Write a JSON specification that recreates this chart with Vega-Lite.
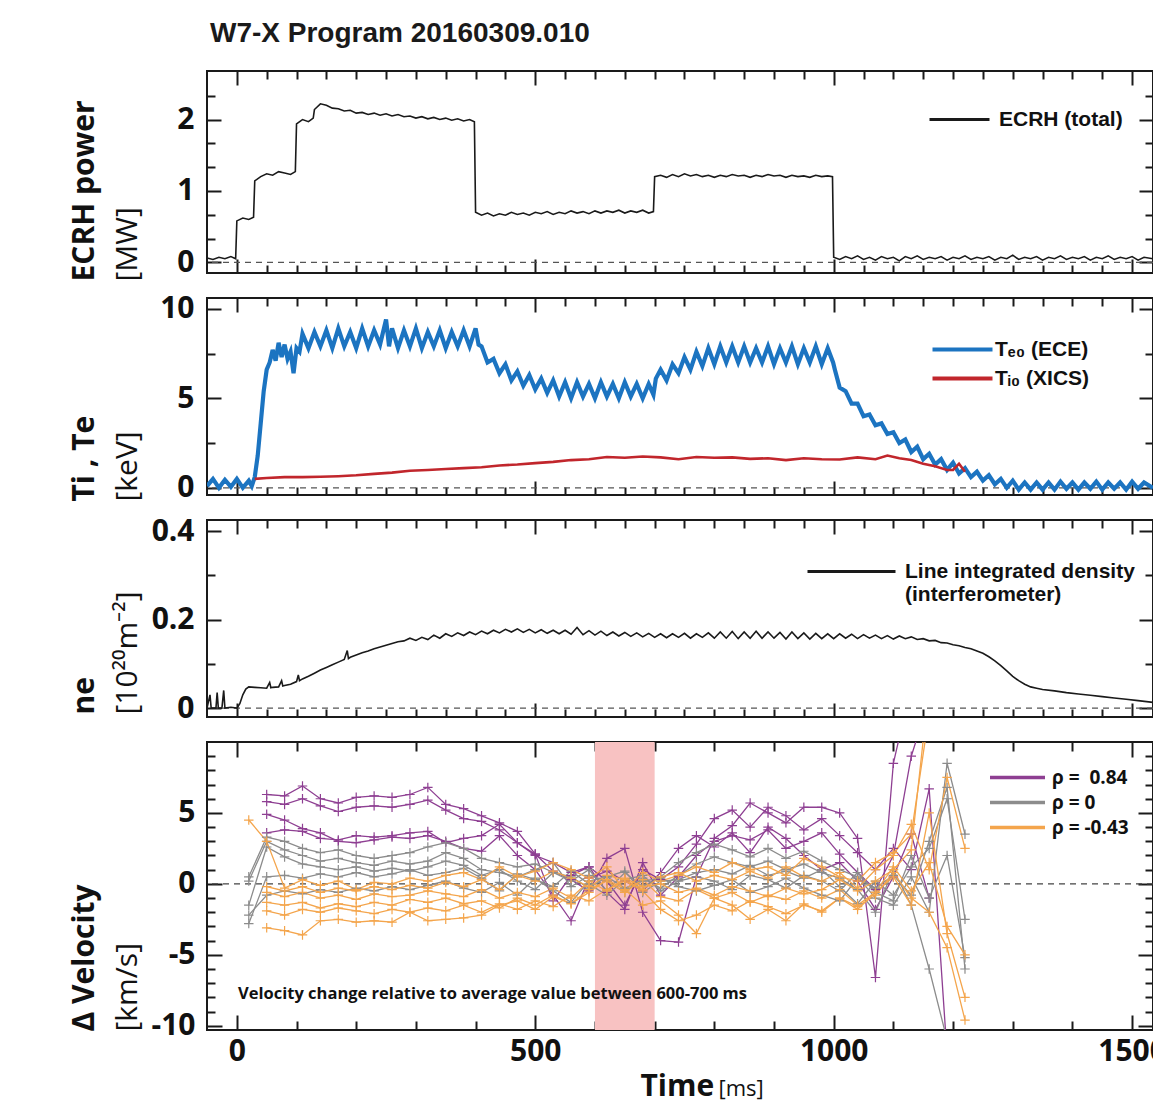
{
"$schema":"https://vega.github.io/schema/vega-lite/v6.json",
"padding":{"left":68,"top":20,"right":0,"bottom":0},
"background":"white",
"title":{"text":"W7-X Program 20160309.010","anchor":"start","font":"Liberation Sans","fontSize":28,"fontWeight":"bold","color":"#1a1a1a","offset":21,"dx":3,"frame":"group"},
"config":{"view":{"stroke":"#1a1a1a","strokeWidth":2},"axis":{"grid":false,"domain":false,"tickColor":"#1a1a1a","tickWidth":2,"labelColor":"#111","titleColor":"#111"},"legend":{"padding":0,"labelLimit":400}},
"spacing":25,
"bounds":"flush",
"resolve":{"scale":{"color":"independent"},"legend":{"color":"independent"}},
"datasets":{
"ecrh":[{"t":-50,"v":0.06},{"t":-40,"v":0.04},{"t":-30,"v":0.07},{"t":-20,"v":0.05},{"t":-10,"v":0.08},{"t":-2,"v":0.05},{"t":0,"v":0.58},{"t":10,"v":0.62},{"t":20,"v":0.6},{"t":28,"v":0.63},{"t":30,"v":1.14},{"t":40,"v":1.2},{"t":50,"v":1.24},{"t":60,"v":1.22},{"t":70,"v":1.27},{"t":80,"v":1.25},{"t":90,"v":1.23},{"t":98,"v":1.27},{"t":100,"v":1.94},{"t":110,"v":2.0},{"t":120,"v":1.97},{"t":128,"v":2.02},{"t":130,"v":2.14},{"t":140,"v":2.22},{"t":150,"v":2.2},{"t":160,"v":2.16},{"t":170,"v":2.15},{"t":180,"v":2.12},{"t":190,"v":2.13},{"t":200,"v":2.09},{"t":210,"v":2.1},{"t":220,"v":2.07},{"t":230,"v":2.09},{"t":240,"v":2.06},{"t":250,"v":2.08},{"t":260,"v":2.05},{"t":270,"v":2.07},{"t":280,"v":2.04},{"t":290,"v":2.05},{"t":300,"v":2.02},{"t":310,"v":2.04},{"t":320,"v":2.01},{"t":330,"v":2.03},{"t":340,"v":2.0},{"t":350,"v":2.02},{"t":360,"v":1.99},{"t":370,"v":2.01},{"t":380,"v":1.98},{"t":390,"v":2.0},{"t":398,"v":1.97},{"t":400,"v":0.7},{"t":410,"v":0.66},{"t":420,"v":0.69},{"t":430,"v":0.65},{"t":440,"v":0.68},{"t":450,"v":0.66},{"t":460,"v":0.7},{"t":470,"v":0.67},{"t":480,"v":0.69},{"t":490,"v":0.66},{"t":500,"v":0.7},{"t":510,"v":0.68},{"t":520,"v":0.71},{"t":530,"v":0.67},{"t":540,"v":0.7},{"t":550,"v":0.68},{"t":560,"v":0.72},{"t":570,"v":0.69},{"t":580,"v":0.71},{"t":590,"v":0.68},{"t":600,"v":0.72},{"t":610,"v":0.69},{"t":620,"v":0.72},{"t":630,"v":0.7},{"t":640,"v":0.73},{"t":650,"v":0.69},{"t":660,"v":0.72},{"t":670,"v":0.7},{"t":680,"v":0.73},{"t":690,"v":0.69},{"t":698,"v":0.71},{"t":700,"v":1.2},{"t":710,"v":1.22},{"t":720,"v":1.19},{"t":730,"v":1.23},{"t":740,"v":1.2},{"t":750,"v":1.24},{"t":760,"v":1.21},{"t":770,"v":1.23},{"t":780,"v":1.2},{"t":790,"v":1.22},{"t":800,"v":1.19},{"t":810,"v":1.22},{"t":820,"v":1.2},{"t":830,"v":1.23},{"t":840,"v":1.21},{"t":850,"v":1.22},{"t":860,"v":1.19},{"t":870,"v":1.22},{"t":880,"v":1.2},{"t":890,"v":1.23},{"t":900,"v":1.21},{"t":910,"v":1.22},{"t":920,"v":1.19},{"t":930,"v":1.22},{"t":940,"v":1.2},{"t":950,"v":1.21},{"t":960,"v":1.19},{"t":970,"v":1.22},{"t":980,"v":1.2},{"t":990,"v":1.21},{"t":998,"v":1.2},{"t":1000,"v":0.07},{"t":1010,"v":0.04},{"t":1020,"v":0.08},{"t":1030,"v":0.05},{"t":1040,"v":0.09},{"t":1050,"v":0.04},{"t":1060,"v":0.07},{"t":1070,"v":0.03},{"t":1080,"v":0.08},{"t":1090,"v":0.05},{"t":1100,"v":0.07},{"t":1110,"v":0.02},{"t":1120,"v":0.08},{"t":1130,"v":0.05},{"t":1140,"v":0.09},{"t":1150,"v":0.04},{"t":1160,"v":0.07},{"t":1170,"v":0.05},{"t":1180,"v":0.08},{"t":1190,"v":0.03},{"t":1200,"v":0.07},{"t":1210,"v":0.05},{"t":1220,"v":0.09},{"t":1230,"v":0.04},{"t":1240,"v":0.07},{"t":1250,"v":0.05},{"t":1260,"v":0.08},{"t":1270,"v":0.03},{"t":1280,"v":0.07},{"t":1290,"v":0.05},{"t":1300,"v":0.1},{"t":1310,"v":0.04},{"t":1320,"v":0.07},{"t":1330,"v":0.05},{"t":1340,"v":0.08},{"t":1350,"v":0.03},{"t":1360,"v":0.07},{"t":1370,"v":0.05},{"t":1380,"v":0.09},{"t":1390,"v":0.04},{"t":1400,"v":0.07},{"t":1410,"v":0.05},{"t":1420,"v":0.08},{"t":1430,"v":0.03},{"t":1440,"v":0.07},{"t":1450,"v":0.05},{"t":1460,"v":0.09},{"t":1470,"v":0.04},{"t":1480,"v":0.07},{"t":1490,"v":0.05},{"t":1500,"v":0.08},{"t":1510,"v":0.03},{"t":1520,"v":0.07},{"t":1535,"v":0.05}],
"te":[{"t":-50,"v":0.1},{"t":-40,"v":0.5},{"t":-30,"v":0.0},{"t":-20,"v":0.45},{"t":-10,"v":0.05},{"t":0,"v":0.5},{"t":10,"v":0.0},{"t":20,"v":0.4},{"t":25,"v":0.1},{"t":30,"v":0.6},{"t":35,"v":1.8},{"t":40,"v":3.6},{"t":45,"v":5.4},{"t":50,"v":6.6},{"t":55,"v":7.0},{"t":60,"v":7.7},{"t":65,"v":7.1},{"t":70,"v":8.1},{"t":75,"v":7.3},{"t":80,"v":8.0},{"t":85,"v":7.2},{"t":90,"v":7.6},{"t":95,"v":6.4},{"t":100,"v":7.8},{"t":105,"v":7.6},{"t":110,"v":8.6},{"t":120,"v":7.8},{"t":130,"v":8.7},{"t":140,"v":7.9},{"t":150,"v":8.8},{"t":160,"v":7.8},{"t":170,"v":8.9},{"t":180,"v":7.9},{"t":190,"v":8.7},{"t":200,"v":7.8},{"t":210,"v":8.9},{"t":220,"v":7.9},{"t":230,"v":8.8},{"t":240,"v":8.0},{"t":250,"v":9.4},{"t":255,"v":7.9},{"t":260,"v":8.9},{"t":270,"v":7.8},{"t":280,"v":8.8},{"t":290,"v":7.9},{"t":300,"v":8.9},{"t":310,"v":7.8},{"t":320,"v":8.7},{"t":330,"v":7.9},{"t":340,"v":8.8},{"t":350,"v":7.8},{"t":360,"v":8.7},{"t":370,"v":7.9},{"t":380,"v":8.8},{"t":390,"v":7.9},{"t":400,"v":8.9},{"t":405,"v":8.0},{"t":410,"v":7.9},{"t":420,"v":7.0},{"t":430,"v":7.2},{"t":440,"v":6.4},{"t":450,"v":6.9},{"t":460,"v":6.0},{"t":470,"v":6.5},{"t":480,"v":5.7},{"t":490,"v":6.3},{"t":500,"v":5.5},{"t":510,"v":6.1},{"t":520,"v":5.3},{"t":530,"v":6.0},{"t":540,"v":5.1},{"t":550,"v":5.9},{"t":560,"v":5.0},{"t":570,"v":5.9},{"t":580,"v":5.1},{"t":590,"v":5.8},{"t":600,"v":5.0},{"t":610,"v":5.9},{"t":620,"v":5.1},{"t":630,"v":5.8},{"t":640,"v":5.0},{"t":650,"v":5.9},{"t":660,"v":5.1},{"t":670,"v":5.8},{"t":680,"v":5.0},{"t":690,"v":5.8},{"t":698,"v":5.2},{"t":702,"v":6.1},{"t":710,"v":6.6},{"t":720,"v":6.0},{"t":730,"v":6.9},{"t":740,"v":6.4},{"t":750,"v":7.3},{"t":760,"v":6.6},{"t":770,"v":7.6},{"t":780,"v":6.8},{"t":790,"v":7.8},{"t":800,"v":6.9},{"t":810,"v":7.9},{"t":820,"v":7.0},{"t":830,"v":7.9},{"t":840,"v":7.0},{"t":850,"v":7.9},{"t":860,"v":7.0},{"t":870,"v":7.8},{"t":880,"v":7.0},{"t":890,"v":7.9},{"t":900,"v":6.9},{"t":910,"v":7.8},{"t":920,"v":7.0},{"t":930,"v":7.9},{"t":940,"v":6.9},{"t":950,"v":7.8},{"t":960,"v":7.0},{"t":970,"v":7.9},{"t":980,"v":6.9},{"t":990,"v":7.8},{"t":999,"v":7.0},{"t":1002,"v":6.6},{"t":1010,"v":5.6},{"t":1020,"v":5.4},{"t":1030,"v":4.7},{"t":1040,"v":4.7},{"t":1050,"v":4.0},{"t":1060,"v":4.1},{"t":1070,"v":3.5},{"t":1080,"v":3.6},{"t":1090,"v":3.0},{"t":1100,"v":3.1},{"t":1110,"v":2.5},{"t":1120,"v":2.7},{"t":1130,"v":2.0},{"t":1140,"v":2.3},{"t":1150,"v":1.6},{"t":1160,"v":1.9},{"t":1170,"v":1.3},{"t":1180,"v":1.6},{"t":1190,"v":1.0},{"t":1200,"v":1.4},{"t":1210,"v":0.8},{"t":1220,"v":1.1},{"t":1230,"v":0.6},{"t":1240,"v":0.9},{"t":1250,"v":0.4},{"t":1260,"v":0.7},{"t":1270,"v":0.2},{"t":1280,"v":0.5},{"t":1290,"v":0.0},{"t":1300,"v":0.4},{"t":1310,"v":-0.1},{"t":1320,"v":0.3},{"t":1330,"v":-0.1},{"t":1340,"v":0.3},{"t":1350,"v":-0.1},{"t":1360,"v":0.3},{"t":1370,"v":-0.1},{"t":1380,"v":0.35},{"t":1390,"v":-0.05},{"t":1400,"v":0.3},{"t":1410,"v":-0.1},{"t":1420,"v":0.3},{"t":1430,"v":-0.05},{"t":1440,"v":0.35},{"t":1450,"v":-0.1},{"t":1460,"v":0.3},{"t":1470,"v":-0.05},{"t":1480,"v":0.3},{"t":1490,"v":-0.1},{"t":1500,"v":0.35},{"t":1510,"v":-0.05},{"t":1520,"v":0.3},{"t":1535,"v":0.0}],
"ti":[{"t":30,"v":0.5},{"t":50,"v":0.55},{"t":80,"v":0.6},{"t":110,"v":0.6},{"t":140,"v":0.62},{"t":170,"v":0.65},{"t":200,"v":0.7},{"t":230,"v":0.78},{"t":260,"v":0.85},{"t":290,"v":0.95},{"t":320,"v":1.0},{"t":350,"v":1.05},{"t":380,"v":1.1},{"t":410,"v":1.15},{"t":440,"v":1.25},{"t":470,"v":1.3},{"t":500,"v":1.38},{"t":530,"v":1.45},{"t":560,"v":1.55},{"t":590,"v":1.6},{"t":620,"v":1.72},{"t":650,"v":1.68},{"t":680,"v":1.75},{"t":710,"v":1.7},{"t":740,"v":1.6},{"t":770,"v":1.72},{"t":800,"v":1.68},{"t":830,"v":1.7},{"t":860,"v":1.62},{"t":890,"v":1.65},{"t":920,"v":1.55},{"t":950,"v":1.65},{"t":980,"v":1.6},{"t":1010,"v":1.58},{"t":1040,"v":1.7},{"t":1070,"v":1.6},{"t":1090,"v":1.8},{"t":1110,"v":1.65},{"t":1130,"v":1.55},{"t":1150,"v":1.35},{"t":1170,"v":1.2},{"t":1190,"v":1.0},{"t":1200,"v":1.0},{"t":1210,"v":1.35},{"t":1220,"v":0.9}],
"ne":[{"t":-50,"v":0.0},{"t":-45,"v":0.03},{"t":-43,"v":0.0},{"t":-35,"v":0.0},{"t":-33,"v":0.035},{"t":-31,"v":0.0},{"t":-25,"v":0.0},{"t":-22,"v":0.04},{"t":-20,"v":0.0},{"t":-10,"v":0.002},{"t":0,"v":0.0},{"t":5,"v":0.01},{"t":10,"v":0.03},{"t":15,"v":0.043},{"t":20,"v":0.048},{"t":30,"v":0.047},{"t":40,"v":0.046},{"t":50,"v":0.045},{"t":55,"v":0.058},{"t":57,"v":0.046},{"t":60,"v":0.047},{"t":70,"v":0.048},{"t":75,"v":0.062},{"t":77,"v":0.05},{"t":80,"v":0.051},{"t":90,"v":0.054},{"t":100,"v":0.06},{"t":103,"v":0.075},{"t":105,"v":0.062},{"t":110,"v":0.066},{"t":120,"v":0.072},{"t":130,"v":0.079},{"t":140,"v":0.086},{"t":150,"v":0.092},{"t":160,"v":0.098},{"t":170,"v":0.104},{"t":180,"v":0.11},{"t":185,"v":0.13},{"t":187,"v":0.112},{"t":190,"v":0.115},{"t":200,"v":0.12},{"t":210,"v":0.125},{"t":220,"v":0.129},{"t":230,"v":0.134},{"t":240,"v":0.138},{"t":250,"v":0.142},{"t":260,"v":0.146},{"t":270,"v":0.15},{"t":280,"v":0.152},{"t":290,"v":0.158},{"t":300,"v":0.153},{"t":310,"v":0.16},{"t":320,"v":0.155},{"t":330,"v":0.165},{"t":340,"v":0.158},{"t":350,"v":0.168},{"t":360,"v":0.162},{"t":370,"v":0.17},{"t":380,"v":0.164},{"t":390,"v":0.172},{"t":400,"v":0.166},{"t":410,"v":0.174},{"t":420,"v":0.168},{"t":430,"v":0.176},{"t":440,"v":0.17},{"t":450,"v":0.178},{"t":460,"v":0.172},{"t":470,"v":0.179},{"t":480,"v":0.171},{"t":490,"v":0.178},{"t":500,"v":0.17},{"t":510,"v":0.177},{"t":520,"v":0.169},{"t":530,"v":0.176},{"t":540,"v":0.168},{"t":550,"v":0.176},{"t":560,"v":0.167},{"t":570,"v":0.182},{"t":580,"v":0.166},{"t":590,"v":0.175},{"t":600,"v":0.165},{"t":610,"v":0.174},{"t":620,"v":0.164},{"t":630,"v":0.172},{"t":640,"v":0.163},{"t":650,"v":0.171},{"t":660,"v":0.162},{"t":670,"v":0.17},{"t":680,"v":0.161},{"t":690,"v":0.169},{"t":700,"v":0.16},{"t":710,"v":0.168},{"t":720,"v":0.159},{"t":730,"v":0.168},{"t":740,"v":0.16},{"t":750,"v":0.169},{"t":760,"v":0.158},{"t":770,"v":0.168},{"t":780,"v":0.16},{"t":790,"v":0.17},{"t":800,"v":0.158},{"t":810,"v":0.172},{"t":820,"v":0.158},{"t":830,"v":0.173},{"t":840,"v":0.157},{"t":850,"v":0.172},{"t":860,"v":0.158},{"t":870,"v":0.174},{"t":880,"v":0.158},{"t":890,"v":0.172},{"t":900,"v":0.158},{"t":910,"v":0.171},{"t":920,"v":0.156},{"t":930,"v":0.172},{"t":940,"v":0.157},{"t":950,"v":0.17},{"t":960,"v":0.156},{"t":970,"v":0.169},{"t":980,"v":0.157},{"t":990,"v":0.168},{"t":1000,"v":0.157},{"t":1010,"v":0.168},{"t":1020,"v":0.158},{"t":1030,"v":0.167},{"t":1040,"v":0.157},{"t":1050,"v":0.166},{"t":1060,"v":0.158},{"t":1070,"v":0.165},{"t":1080,"v":0.157},{"t":1090,"v":0.164},{"t":1100,"v":0.156},{"t":1110,"v":0.163},{"t":1120,"v":0.157},{"t":1130,"v":0.161},{"t":1140,"v":0.155},{"t":1150,"v":0.157},{"t":1160,"v":0.152},{"t":1170,"v":0.153},{"t":1180,"v":0.148},{"t":1190,"v":0.147},{"t":1200,"v":0.143},{"t":1210,"v":0.141},{"t":1220,"v":0.137},{"t":1230,"v":0.134},{"t":1240,"v":0.129},{"t":1250,"v":0.124},{"t":1260,"v":0.116},{"t":1270,"v":0.107},{"t":1280,"v":0.096},{"t":1290,"v":0.084},{"t":1300,"v":0.072},{"t":1310,"v":0.062},{"t":1320,"v":0.054},{"t":1330,"v":0.048},{"t":1340,"v":0.045},{"t":1350,"v":0.042},{"t":1370,"v":0.039},{"t":1390,"v":0.035},{"t":1410,"v":0.032},{"t":1430,"v":0.029},{"t":1450,"v":0.026},{"t":1470,"v":0.023},{"t":1490,"v":0.02},{"t":1510,"v":0.017},{"t":1535,"v":0.013}],
"vel":[
{"t":50,"v":6.3,"k":"p1","g":"0.84"},{"t":80,"v":6.2,"k":"p1","g":"0.84"},{"t":110,"v":6.9,"k":"p1","g":"0.84"},{"t":140,"v":6.0,"k":"p1","g":"0.84"},{"t":170,"v":5.7,"k":"p1","g":"0.84"},{"t":200,"v":6.1,"k":"p1","g":"0.84"},{"t":230,"v":6.2,"k":"p1","g":"0.84"},{"t":260,"v":6.1,"k":"p1","g":"0.84"},{"t":290,"v":6.3,"k":"p1","g":"0.84"},{"t":320,"v":6.8,"k":"p1","g":"0.84"},{"t":350,"v":5.6,"k":"p1","g":"0.84"},{"t":380,"v":5.3,"k":"p1","g":"0.84"},{"t":410,"v":4.8,"k":"p1","g":"0.84"},{"t":440,"v":4.3,"k":"p1","g":"0.84"},{"t":470,"v":3.7,"k":"p1","g":"0.84"},{"t":500,"v":2.1,"k":"p1","g":"0.84"},{"t":530,"v":0.9,"k":"p1","g":"0.84"},{"t":560,"v":0.3,"k":"p1","g":"0.84"},{"t":590,"v":-0.5,"k":"p1","g":"0.84"},{"t":620,"v":1.8,"k":"p1","g":"0.84"},{"t":650,"v":2.5,"k":"p1","g":"0.84"},{"t":680,"v":-2.0,"k":"p1","g":"0.84"},{"t":710,"v":-4.0,"k":"p1","g":"0.84"},{"t":740,"v":-4.1,"k":"p1","g":"0.84"},{"t":770,"v":0.5,"k":"p1","g":"0.84"},{"t":800,"v":3.2,"k":"p1","g":"0.84"},{"t":830,"v":4.1,"k":"p1","g":"0.84"},{"t":860,"v":5.7,"k":"p1","g":"0.84"},{"t":890,"v":5.0,"k":"p1","g":"0.84"},{"t":920,"v":4.3,"k":"p1","g":"0.84"},{"t":950,"v":5.4,"k":"p1","g":"0.84"},{"t":980,"v":5.4,"k":"p1","g":"0.84"},{"t":1010,"v":5.0,"k":"p1","g":"0.84"},{"t":1040,"v":3.2,"k":"p1","g":"0.84"},{"t":1070,"v":-6.6,"k":"p1","g":"0.84"},{"t":1100,"v":8.5,"k":"p1","g":"0.84"},{"t":1130,"v":14,"k":"p1","g":"0.84"},
{"t":50,"v":5.8,"k":"p2","g":"0.84"},{"t":80,"v":5.6,"k":"p2","g":"0.84"},{"t":110,"v":6.0,"k":"p2","g":"0.84"},{"t":140,"v":5.5,"k":"p2","g":"0.84"},{"t":170,"v":5.1,"k":"p2","g":"0.84"},{"t":200,"v":5.4,"k":"p2","g":"0.84"},{"t":230,"v":5.5,"k":"p2","g":"0.84"},{"t":260,"v":5.4,"k":"p2","g":"0.84"},{"t":290,"v":5.6,"k":"p2","g":"0.84"},{"t":320,"v":5.9,"k":"p2","g":"0.84"},{"t":350,"v":5.2,"k":"p2","g":"0.84"},{"t":380,"v":4.6,"k":"p2","g":"0.84"},{"t":410,"v":4.4,"k":"p2","g":"0.84"},{"t":440,"v":3.8,"k":"p2","g":"0.84"},{"t":470,"v":2.9,"k":"p2","g":"0.84"},{"t":500,"v":2.0,"k":"p2","g":"0.84"},{"t":530,"v":1.5,"k":"p2","g":"0.84"},{"t":560,"v":0.8,"k":"p2","g":"0.84"},{"t":590,"v":1.2,"k":"p2","g":"0.84"},{"t":620,"v":0.2,"k":"p2","g":"0.84"},{"t":650,"v":-1.5,"k":"p2","g":"0.84"},{"t":680,"v":1.0,"k":"p2","g":"0.84"},{"t":710,"v":0.3,"k":"p2","g":"0.84"},{"t":740,"v":1.2,"k":"p2","g":"0.84"},{"t":770,"v":2.8,"k":"p2","g":"0.84"},{"t":800,"v":4.6,"k":"p2","g":"0.84"},{"t":830,"v":5.2,"k":"p2","g":"0.84"},{"t":860,"v":4.0,"k":"p2","g":"0.84"},{"t":890,"v":5.4,"k":"p2","g":"0.84"},{"t":920,"v":4.8,"k":"p2","g":"0.84"},{"t":950,"v":3.8,"k":"p2","g":"0.84"},{"t":980,"v":4.6,"k":"p2","g":"0.84"},{"t":1010,"v":3.4,"k":"p2","g":"0.84"},{"t":1040,"v":2.2,"k":"p2","g":"0.84"},{"t":1070,"v":1.0,"k":"p2","g":"0.84"},{"t":1100,"v":2.5,"k":"p2","g":"0.84"},{"t":1130,"v":1.0,"k":"p2","g":"0.84"},{"t":1160,"v":6.7,"k":"p2","g":"0.84"},{"t":1190,"v":-12,"k":"p2","g":"0.84"},
{"t":50,"v":3.6,"k":"p3","g":"0.84"},{"t":80,"v":3.8,"k":"p3","g":"0.84"},{"t":110,"v":3.7,"k":"p3","g":"0.84"},{"t":140,"v":3.2,"k":"p3","g":"0.84"},{"t":170,"v":3.1,"k":"p3","g":"0.84"},{"t":200,"v":3.4,"k":"p3","g":"0.84"},{"t":230,"v":3.3,"k":"p3","g":"0.84"},{"t":260,"v":3.4,"k":"p3","g":"0.84"},{"t":290,"v":3.6,"k":"p3","g":"0.84"},{"t":320,"v":3.7,"k":"p3","g":"0.84"},{"t":350,"v":2.9,"k":"p3","g":"0.84"},{"t":380,"v":3.2,"k":"p3","g":"0.84"},{"t":410,"v":3.4,"k":"p3","g":"0.84"},{"t":440,"v":4.2,"k":"p3","g":"0.84"},{"t":470,"v":2.9,"k":"p3","g":"0.84"},{"t":500,"v":2.1,"k":"p3","g":"0.84"},{"t":530,"v":-1.2,"k":"p3","g":"0.84"},{"t":560,"v":0.6,"k":"p3","g":"0.84"},{"t":590,"v":1.2,"k":"p3","g":"0.84"},{"t":620,"v":-0.6,"k":"p3","g":"0.84"},{"t":650,"v":-1.8,"k":"p3","g":"0.84"},{"t":680,"v":1.5,"k":"p3","g":"0.84"},{"t":710,"v":-0.8,"k":"p3","g":"0.84"},{"t":740,"v":0.5,"k":"p3","g":"0.84"},{"t":770,"v":2.0,"k":"p3","g":"0.84"},{"t":800,"v":3.0,"k":"p3","g":"0.84"},{"t":830,"v":3.4,"k":"p3","g":"0.84"},{"t":860,"v":3.1,"k":"p3","g":"0.84"},{"t":890,"v":3.8,"k":"p3","g":"0.84"},{"t":920,"v":2.5,"k":"p3","g":"0.84"},{"t":950,"v":3.0,"k":"p3","g":"0.84"},{"t":980,"v":3.6,"k":"p3","g":"0.84"},{"t":1010,"v":2.1,"k":"p3","g":"0.84"},{"t":1040,"v":0.8,"k":"p3","g":"0.84"},{"t":1070,"v":-0.4,"k":"p3","g":"0.84"},{"t":1100,"v":2.0,"k":"p3","g":"0.84"},{"t":1130,"v":9.0,"k":"p3","g":"0.84"},{"t":1160,"v":13,"k":"p3","g":"0.84"},
{"t":50,"v":4.9,"k":"p4","g":"0.84"},{"t":80,"v":4.5,"k":"p4","g":"0.84"},{"t":110,"v":3.9,"k":"p4","g":"0.84"},{"t":140,"v":3.6,"k":"p4","g":"0.84"},{"t":170,"v":3.0,"k":"p4","g":"0.84"},{"t":200,"v":2.9,"k":"p4","g":"0.84"},{"t":230,"v":3.1,"k":"p4","g":"0.84"},{"t":260,"v":3.3,"k":"p4","g":"0.84"},{"t":290,"v":3.2,"k":"p4","g":"0.84"},{"t":320,"v":3.4,"k":"p4","g":"0.84"},{"t":350,"v":3.0,"k":"p4","g":"0.84"},{"t":380,"v":2.5,"k":"p4","g":"0.84"},{"t":410,"v":2.3,"k":"p4","g":"0.84"},{"t":440,"v":3.4,"k":"p4","g":"0.84"},{"t":470,"v":2.0,"k":"p4","g":"0.84"},{"t":500,"v":1.0,"k":"p4","g":"0.84"},{"t":530,"v":-0.8,"k":"p4","g":"0.84"},{"t":560,"v":-2.6,"k":"p4","g":"0.84"},{"t":590,"v":0.4,"k":"p4","g":"0.84"},{"t":620,"v":0.9,"k":"p4","g":"0.84"},{"t":650,"v":0.2,"k":"p4","g":"0.84"},{"t":680,"v":-0.5,"k":"p4","g":"0.84"},{"t":710,"v":0.8,"k":"p4","g":"0.84"},{"t":740,"v":2.5,"k":"p4","g":"0.84"},{"t":770,"v":3.4,"k":"p4","g":"0.84"},{"t":800,"v":2.6,"k":"p4","g":"0.84"},{"t":830,"v":3.6,"k":"p4","g":"0.84"},{"t":860,"v":2.2,"k":"p4","g":"0.84"},{"t":890,"v":4.0,"k":"p4","g":"0.84"},{"t":920,"v":3.2,"k":"p4","g":"0.84"},{"t":950,"v":2.0,"k":"p4","g":"0.84"},{"t":980,"v":1.0,"k":"p4","g":"0.84"},{"t":1010,"v":1.5,"k":"p4","g":"0.84"},{"t":1040,"v":0.2,"k":"p4","g":"0.84"},{"t":1070,"v":-1.8,"k":"p4","g":"0.84"},{"t":1100,"v":0.5,"k":"p4","g":"0.84"},{"t":1130,"v":3.5,"k":"p4","g":"0.84"},{"t":1160,"v":-1.0,"k":"p4","g":"0.84"},
{"t":20,"v":0.5,"k":"g1","g":"0"},{"t":50,"v":3.3,"k":"g1","g":"0"},{"t":80,"v":3.0,"k":"g1","g":"0"},{"t":110,"v":2.5,"k":"g1","g":"0"},{"t":140,"v":2.2,"k":"g1","g":"0"},{"t":170,"v":2.4,"k":"g1","g":"0"},{"t":200,"v":2.0,"k":"g1","g":"0"},{"t":230,"v":1.8,"k":"g1","g":"0"},{"t":260,"v":2.0,"k":"g1","g":"0"},{"t":290,"v":2.2,"k":"g1","g":"0"},{"t":320,"v":2.6,"k":"g1","g":"0"},{"t":350,"v":2.9,"k":"g1","g":"0"},{"t":380,"v":2.5,"k":"g1","g":"0"},{"t":410,"v":1.8,"k":"g1","g":"0"},{"t":440,"v":1.5,"k":"g1","g":"0"},{"t":470,"v":1.2,"k":"g1","g":"0"},{"t":500,"v":1.4,"k":"g1","g":"0"},{"t":530,"v":0.8,"k":"g1","g":"0"},{"t":560,"v":0.2,"k":"g1","g":"0"},{"t":590,"v":1.0,"k":"g1","g":"0"},{"t":620,"v":-0.5,"k":"g1","g":"0"},{"t":650,"v":0.8,"k":"g1","g":"0"},{"t":680,"v":-0.2,"k":"g1","g":"0"},{"t":710,"v":0.5,"k":"g1","g":"0"},{"t":740,"v":1.5,"k":"g1","g":"0"},{"t":770,"v":2.2,"k":"g1","g":"0"},{"t":800,"v":2.8,"k":"g1","g":"0"},{"t":830,"v":2.4,"k":"g1","g":"0"},{"t":860,"v":1.9,"k":"g1","g":"0"},{"t":890,"v":2.5,"k":"g1","g":"0"},{"t":920,"v":1.8,"k":"g1","g":"0"},{"t":950,"v":2.3,"k":"g1","g":"0"},{"t":980,"v":1.6,"k":"g1","g":"0"},{"t":1010,"v":1.0,"k":"g1","g":"0"},{"t":1040,"v":0.5,"k":"g1","g":"0"},{"t":1070,"v":-1.0,"k":"g1","g":"0"},{"t":1100,"v":-1.5,"k":"g1","g":"0"},{"t":1130,"v":0.5,"k":"g1","g":"0"},{"t":1160,"v":-2.0,"k":"g1","g":"0"},{"t":1190,"v":8.5,"k":"g1","g":"0"},{"t":1220,"v":3.5,"k":"g1","g":"0"},
{"t":20,"v":0.2,"k":"g2","g":"0"},{"t":50,"v":3.0,"k":"g2","g":"0"},{"t":80,"v":2.4,"k":"g2","g":"0"},{"t":110,"v":2.0,"k":"g2","g":"0"},{"t":140,"v":1.6,"k":"g2","g":"0"},{"t":170,"v":1.8,"k":"g2","g":"0"},{"t":200,"v":1.5,"k":"g2","g":"0"},{"t":230,"v":1.3,"k":"g2","g":"0"},{"t":260,"v":1.6,"k":"g2","g":"0"},{"t":290,"v":1.4,"k":"g2","g":"0"},{"t":320,"v":1.6,"k":"g2","g":"0"},{"t":350,"v":2.2,"k":"g2","g":"0"},{"t":380,"v":1.8,"k":"g2","g":"0"},{"t":410,"v":1.0,"k":"g2","g":"0"},{"t":440,"v":0.8,"k":"g2","g":"0"},{"t":470,"v":0.5,"k":"g2","g":"0"},{"t":500,"v":1.0,"k":"g2","g":"0"},{"t":530,"v":1.5,"k":"g2","g":"0"},{"t":560,"v":-0.2,"k":"g2","g":"0"},{"t":590,"v":0.6,"k":"g2","g":"0"},{"t":620,"v":0.2,"k":"g2","g":"0"},{"t":650,"v":-0.6,"k":"g2","g":"0"},{"t":680,"v":0.4,"k":"g2","g":"0"},{"t":710,"v":-0.3,"k":"g2","g":"0"},{"t":740,"v":0.6,"k":"g2","g":"0"},{"t":770,"v":1.4,"k":"g2","g":"0"},{"t":800,"v":1.9,"k":"g2","g":"0"},{"t":830,"v":1.5,"k":"g2","g":"0"},{"t":860,"v":1.2,"k":"g2","g":"0"},{"t":890,"v":1.6,"k":"g2","g":"0"},{"t":920,"v":1.0,"k":"g2","g":"0"},{"t":950,"v":1.4,"k":"g2","g":"0"},{"t":980,"v":0.8,"k":"g2","g":"0"},{"t":1010,"v":0.4,"k":"g2","g":"0"},{"t":1040,"v":-0.4,"k":"g2","g":"0"},{"t":1070,"v":-2.0,"k":"g2","g":"0"},{"t":1100,"v":1.0,"k":"g2","g":"0"},{"t":1130,"v":-1.5,"k":"g2","g":"0"},{"t":1160,"v":-6.0,"k":"g2","g":"0"},{"t":1190,"v":-11,"k":"g2","g":"0"},
{"t":20,"v":-1.5,"k":"g3","g":"0"},{"t":50,"v":2.6,"k":"g3","g":"0"},{"t":80,"v":1.9,"k":"g3","g":"0"},{"t":110,"v":1.4,"k":"g3","g":"0"},{"t":140,"v":1.2,"k":"g3","g":"0"},{"t":170,"v":1.0,"k":"g3","g":"0"},{"t":200,"v":1.2,"k":"g3","g":"0"},{"t":230,"v":0.9,"k":"g3","g":"0"},{"t":260,"v":1.1,"k":"g3","g":"0"},{"t":290,"v":0.9,"k":"g3","g":"0"},{"t":320,"v":1.2,"k":"g3","g":"0"},{"t":350,"v":1.6,"k":"g3","g":"0"},{"t":380,"v":1.3,"k":"g3","g":"0"},{"t":410,"v":0.6,"k":"g3","g":"0"},{"t":440,"v":1.0,"k":"g3","g":"0"},{"t":470,"v":0.2,"k":"g3","g":"0"},{"t":500,"v":-0.4,"k":"g3","g":"0"},{"t":530,"v":0.8,"k":"g3","g":"0"},{"t":560,"v":0.5,"k":"g3","g":"0"},{"t":590,"v":-0.3,"k":"g3","g":"0"},{"t":620,"v":0.5,"k":"g3","g":"0"},{"t":650,"v":0.9,"k":"g3","g":"0"},{"t":680,"v":-0.6,"k":"g3","g":"0"},{"t":710,"v":0.2,"k":"g3","g":"0"},{"t":740,"v":0.3,"k":"g3","g":"0"},{"t":770,"v":0.8,"k":"g3","g":"0"},{"t":800,"v":1.0,"k":"g3","g":"0"},{"t":830,"v":0.7,"k":"g3","g":"0"},{"t":860,"v":1.3,"k":"g3","g":"0"},{"t":890,"v":0.6,"k":"g3","g":"0"},{"t":920,"v":0.9,"k":"g3","g":"0"},{"t":950,"v":0.4,"k":"g3","g":"0"},{"t":980,"v":1.0,"k":"g3","g":"0"},{"t":1010,"v":-0.2,"k":"g3","g":"0"},{"t":1040,"v":-1.4,"k":"g3","g":"0"},{"t":1070,"v":0.2,"k":"g3","g":"0"},{"t":1100,"v":-0.8,"k":"g3","g":"0"},{"t":1130,"v":1.2,"k":"g3","g":"0"},{"t":1160,"v":2.5,"k":"g3","g":"0"},{"t":1190,"v":6.0,"k":"g3","g":"0"},{"t":1220,"v":-2.5,"k":"g3","g":"0"},
{"t":20,"v":-2.8,"k":"g4","g":"0"},{"t":50,"v":0.5,"k":"g4","g":"0"},{"t":80,"v":0.6,"k":"g4","g":"0"},{"t":110,"v":0.4,"k":"g4","g":"0"},{"t":140,"v":0.7,"k":"g4","g":"0"},{"t":170,"v":0.5,"k":"g4","g":"0"},{"t":200,"v":0.8,"k":"g4","g":"0"},{"t":230,"v":0.5,"k":"g4","g":"0"},{"t":260,"v":0.7,"k":"g4","g":"0"},{"t":290,"v":1.0,"k":"g4","g":"0"},{"t":320,"v":0.6,"k":"g4","g":"0"},{"t":350,"v":0.8,"k":"g4","g":"0"},{"t":380,"v":1.1,"k":"g4","g":"0"},{"t":410,"v":0.4,"k":"g4","g":"0"},{"t":440,"v":-0.5,"k":"g4","g":"0"},{"t":470,"v":0.7,"k":"g4","g":"0"},{"t":500,"v":0.3,"k":"g4","g":"0"},{"t":530,"v":-0.2,"k":"g4","g":"0"},{"t":560,"v":0.9,"k":"g4","g":"0"},{"t":590,"v":0.0,"k":"g4","g":"0"},{"t":620,"v":-0.8,"k":"g4","g":"0"},{"t":650,"v":0.3,"k":"g4","g":"0"},{"t":680,"v":0.6,"k":"g4","g":"0"},{"t":710,"v":-0.5,"k":"g4","g":"0"},{"t":740,"v":0.2,"k":"g4","g":"0"},{"t":770,"v":0.5,"k":"g4","g":"0"},{"t":800,"v":0.2,"k":"g4","g":"0"},{"t":830,"v":-0.4,"k":"g4","g":"0"},{"t":860,"v":0.6,"k":"g4","g":"0"},{"t":890,"v":0.3,"k":"g4","g":"0"},{"t":920,"v":-0.3,"k":"g4","g":"0"},{"t":950,"v":0.6,"k":"g4","g":"0"},{"t":980,"v":0.2,"k":"g4","g":"0"},{"t":1010,"v":-0.5,"k":"g4","g":"0"},{"t":1040,"v":0.8,"k":"g4","g":"0"},{"t":1070,"v":-0.6,"k":"g4","g":"0"},{"t":1100,"v":-1.2,"k":"g4","g":"0"},{"t":1130,"v":2.0,"k":"g4","g":"0"},{"t":1160,"v":-1.0,"k":"g4","g":"0"},{"t":1190,"v":2.0,"k":"g4","g":"0"},{"t":1220,"v":-5.2,"k":"g4","g":"0"},
{"t":20,"v":-2.2,"k":"g5","g":"0"},{"t":50,"v":-0.8,"k":"g5","g":"0"},{"t":80,"v":-0.5,"k":"g5","g":"0"},{"t":110,"v":-0.7,"k":"g5","g":"0"},{"t":140,"v":-0.4,"k":"g5","g":"0"},{"t":170,"v":-0.6,"k":"g5","g":"0"},{"t":200,"v":-0.3,"k":"g5","g":"0"},{"t":230,"v":-0.5,"k":"g5","g":"0"},{"t":260,"v":-0.2,"k":"g5","g":"0"},{"t":290,"v":-0.4,"k":"g5","g":"0"},{"t":320,"v":-0.1,"k":"g5","g":"0"},{"t":350,"v":0.2,"k":"g5","g":"0"},{"t":380,"v":-0.3,"k":"g5","g":"0"},{"t":410,"v":-0.6,"k":"g5","g":"0"},{"t":440,"v":0.1,"k":"g5","g":"0"},{"t":470,"v":-0.8,"k":"g5","g":"0"},{"t":500,"v":0.4,"k":"g5","g":"0"},{"t":530,"v":-0.5,"k":"g5","g":"0"},{"t":560,"v":-1.3,"k":"g5","g":"0"},{"t":590,"v":0.2,"k":"g5","g":"0"},{"t":620,"v":0.5,"k":"g5","g":"0"},{"t":650,"v":-0.3,"k":"g5","g":"0"},{"t":680,"v":0.2,"k":"g5","g":"0"},{"t":710,"v":0.4,"k":"g5","g":"0"},{"t":740,"v":-0.2,"k":"g5","g":"0"},{"t":770,"v":-0.5,"k":"g5","g":"0"},{"t":800,"v":-0.1,"k":"g5","g":"0"},{"t":830,"v":0.3,"k":"g5","g":"0"},{"t":860,"v":-0.6,"k":"g5","g":"0"},{"t":890,"v":-0.2,"k":"g5","g":"0"},{"t":920,"v":0.4,"k":"g5","g":"0"},{"t":950,"v":-0.3,"k":"g5","g":"0"},{"t":980,"v":-0.8,"k":"g5","g":"0"},{"t":1010,"v":-1.2,"k":"g5","g":"0"},{"t":1040,"v":0.4,"k":"g5","g":"0"},{"t":1070,"v":-0.3,"k":"g5","g":"0"},{"t":1100,"v":0.6,"k":"g5","g":"0"},{"t":1130,"v":-0.8,"k":"g5","g":"0"},{"t":1160,"v":3.0,"k":"g5","g":"0"},{"t":1190,"v":6.8,"k":"g5","g":"0"},{"t":1220,"v":-6.0,"k":"g5","g":"0"},
{"t":20,"v":4.5,"k":"o1","g":"-0.43"},{"t":50,"v":3.0,"k":"o1","g":"-0.43"},{"t":80,"v":-0.3,"k":"o1","g":"-0.43"},{"t":110,"v":0.3,"k":"o1","g":"-0.43"},{"t":140,"v":-0.1,"k":"o1","g":"-0.43"},{"t":170,"v":0.2,"k":"o1","g":"-0.43"},{"t":200,"v":-0.4,"k":"o1","g":"-0.43"},{"t":230,"v":0.1,"k":"o1","g":"-0.43"},{"t":260,"v":0.0,"k":"o1","g":"-0.43"},{"t":290,"v":0.4,"k":"o1","g":"-0.43"},{"t":320,"v":0.2,"k":"o1","g":"-0.43"},{"t":350,"v":0.6,"k":"o1","g":"-0.43"},{"t":380,"v":0.8,"k":"o1","g":"-0.43"},{"t":410,"v":0.3,"k":"o1","g":"-0.43"},{"t":440,"v":1.2,"k":"o1","g":"-0.43"},{"t":470,"v":0.5,"k":"o1","g":"-0.43"},{"t":500,"v":0.9,"k":"o1","g":"-0.43"},{"t":530,"v":1.5,"k":"o1","g":"-0.43"},{"t":560,"v":1.0,"k":"o1","g":"-0.43"},{"t":590,"v":0.4,"k":"o1","g":"-0.43"},{"t":620,"v":1.2,"k":"o1","g":"-0.43"},{"t":650,"v":-0.5,"k":"o1","g":"-0.43"},{"t":680,"v":0.8,"k":"o1","g":"-0.43"},{"t":710,"v":0.2,"k":"o1","g":"-0.43"},{"t":740,"v":0.6,"k":"o1","g":"-0.43"},{"t":770,"v":1.2,"k":"o1","g":"-0.43"},{"t":800,"v":0.8,"k":"o1","g":"-0.43"},{"t":830,"v":1.5,"k":"o1","g":"-0.43"},{"t":860,"v":1.0,"k":"o1","g":"-0.43"},{"t":890,"v":1.2,"k":"o1","g":"-0.43"},{"t":920,"v":0.6,"k":"o1","g":"-0.43"},{"t":950,"v":1.8,"k":"o1","g":"-0.43"},{"t":980,"v":1.2,"k":"o1","g":"-0.43"},{"t":1010,"v":0.5,"k":"o1","g":"-0.43"},{"t":1040,"v":0.2,"k":"o1","g":"-0.43"},{"t":1070,"v":1.5,"k":"o1","g":"-0.43"},{"t":1100,"v":2.2,"k":"o1","g":"-0.43"},{"t":1130,"v":3.5,"k":"o1","g":"-0.43"},{"t":1160,"v":12,"k":"o1","g":"-0.43"},
{"t":50,"v":-0.2,"k":"o2","g":"-0.43"},{"t":80,"v":-0.5,"k":"o2","g":"-0.43"},{"t":110,"v":-0.2,"k":"o2","g":"-0.43"},{"t":140,"v":-0.6,"k":"o2","g":"-0.43"},{"t":170,"v":-0.3,"k":"o2","g":"-0.43"},{"t":200,"v":-0.5,"k":"o2","g":"-0.43"},{"t":230,"v":-0.2,"k":"o2","g":"-0.43"},{"t":260,"v":-0.4,"k":"o2","g":"-0.43"},{"t":290,"v":-0.1,"k":"o2","g":"-0.43"},{"t":320,"v":-0.3,"k":"o2","g":"-0.43"},{"t":350,"v":0.1,"k":"o2","g":"-0.43"},{"t":380,"v":-0.2,"k":"o2","g":"-0.43"},{"t":410,"v":0.3,"k":"o2","g":"-0.43"},{"t":440,"v":-0.4,"k":"o2","g":"-0.43"},{"t":470,"v":0.6,"k":"o2","g":"-0.43"},{"t":500,"v":0.2,"k":"o2","g":"-0.43"},{"t":530,"v":0.9,"k":"o2","g":"-0.43"},{"t":560,"v":0.4,"k":"o2","g":"-0.43"},{"t":590,"v":-0.2,"k":"o2","g":"-0.43"},{"t":620,"v":0.6,"k":"o2","g":"-0.43"},{"t":650,"v":0.3,"k":"o2","g":"-0.43"},{"t":680,"v":-0.4,"k":"o2","g":"-0.43"},{"t":710,"v":0.5,"k":"o2","g":"-0.43"},{"t":740,"v":0.8,"k":"o2","g":"-0.43"},{"t":770,"v":0.2,"k":"o2","g":"-0.43"},{"t":800,"v":0.6,"k":"o2","g":"-0.43"},{"t":830,"v":0.3,"k":"o2","g":"-0.43"},{"t":860,"v":0.9,"k":"o2","g":"-0.43"},{"t":890,"v":0.4,"k":"o2","g":"-0.43"},{"t":920,"v":1.2,"k":"o2","g":"-0.43"},{"t":950,"v":0.5,"k":"o2","g":"-0.43"},{"t":980,"v":0.2,"k":"o2","g":"-0.43"},{"t":1010,"v":0.8,"k":"o2","g":"-0.43"},{"t":1040,"v":-0.3,"k":"o2","g":"-0.43"},{"t":1070,"v":1.0,"k":"o2","g":"-0.43"},{"t":1100,"v":2.0,"k":"o2","g":"-0.43"},{"t":1130,"v":4.2,"k":"o2","g":"-0.43"},{"t":1160,"v":1.0,"k":"o2","g":"-0.43"},{"t":1190,"v":7.5,"k":"o2","g":"-0.43"},{"t":1220,"v":2.5,"k":"o2","g":"-0.43"},
{"t":50,"v":-0.6,"k":"o3","g":"-0.43"},{"t":80,"v":-0.9,"k":"o3","g":"-0.43"},{"t":110,"v":-0.6,"k":"o3","g":"-0.43"},{"t":140,"v":-1.0,"k":"o3","g":"-0.43"},{"t":170,"v":-0.8,"k":"o3","g":"-0.43"},{"t":200,"v":-1.1,"k":"o3","g":"-0.43"},{"t":230,"v":-0.7,"k":"o3","g":"-0.43"},{"t":260,"v":-0.9,"k":"o3","g":"-0.43"},{"t":290,"v":-0.8,"k":"o3","g":"-0.43"},{"t":320,"v":-0.5,"k":"o3","g":"-0.43"},{"t":350,"v":-0.7,"k":"o3","g":"-0.43"},{"t":380,"v":-0.9,"k":"o3","g":"-0.43"},{"t":410,"v":-0.4,"k":"o3","g":"-0.43"},{"t":440,"v":-1.0,"k":"o3","g":"-0.43"},{"t":470,"v":-0.6,"k":"o3","g":"-0.43"},{"t":500,"v":-0.9,"k":"o3","g":"-0.43"},{"t":530,"v":-0.3,"k":"o3","g":"-0.43"},{"t":560,"v":-1.0,"k":"o3","g":"-0.43"},{"t":590,"v":0.2,"k":"o3","g":"-0.43"},{"t":620,"v":-0.5,"k":"o3","g":"-0.43"},{"t":650,"v":0.4,"k":"o3","g":"-0.43"},{"t":680,"v":-0.2,"k":"o3","g":"-0.43"},{"t":710,"v":0.0,"k":"o3","g":"-0.43"},{"t":740,"v":-0.6,"k":"o3","g":"-0.43"},{"t":770,"v":-0.3,"k":"o3","g":"-0.43"},{"t":800,"v":-0.8,"k":"o3","g":"-0.43"},{"t":830,"v":-0.2,"k":"o3","g":"-0.43"},{"t":860,"v":-0.5,"k":"o3","g":"-0.43"},{"t":890,"v":-0.9,"k":"o3","g":"-0.43"},{"t":920,"v":-0.3,"k":"o3","g":"-0.43"},{"t":950,"v":-0.7,"k":"o3","g":"-0.43"},{"t":980,"v":-0.4,"k":"o3","g":"-0.43"},{"t":1010,"v":0.3,"k":"o3","g":"-0.43"},{"t":1040,"v":-0.5,"k":"o3","g":"-0.43"},{"t":1070,"v":0.2,"k":"o3","g":"-0.43"},{"t":1100,"v":1.0,"k":"o3","g":"-0.43"},{"t":1130,"v":2.4,"k":"o3","g":"-0.43"},{"t":1160,"v":14,"k":"o3","g":"-0.43"},
{"t":50,"v":-1.3,"k":"o4","g":"-0.43"},{"t":80,"v":-1.5,"k":"o4","g":"-0.43"},{"t":110,"v":-1.3,"k":"o4","g":"-0.43"},{"t":140,"v":-1.7,"k":"o4","g":"-0.43"},{"t":170,"v":-1.4,"k":"o4","g":"-0.43"},{"t":200,"v":-1.6,"k":"o4","g":"-0.43"},{"t":230,"v":-1.3,"k":"o4","g":"-0.43"},{"t":260,"v":-1.5,"k":"o4","g":"-0.43"},{"t":290,"v":-1.1,"k":"o4","g":"-0.43"},{"t":320,"v":-1.3,"k":"o4","g":"-0.43"},{"t":350,"v":-1.0,"k":"o4","g":"-0.43"},{"t":380,"v":-1.4,"k":"o4","g":"-0.43"},{"t":410,"v":-1.2,"k":"o4","g":"-0.43"},{"t":440,"v":-1.7,"k":"o4","g":"-0.43"},{"t":470,"v":-1.0,"k":"o4","g":"-0.43"},{"t":500,"v":-1.5,"k":"o4","g":"-0.43"},{"t":530,"v":-0.8,"k":"o4","g":"-0.43"},{"t":560,"v":-1.4,"k":"o4","g":"-0.43"},{"t":590,"v":-0.4,"k":"o4","g":"-0.43"},{"t":620,"v":0.2,"k":"o4","g":"-0.43"},{"t":650,"v":-0.6,"k":"o4","g":"-0.43"},{"t":680,"v":0.3,"k":"o4","g":"-0.43"},{"t":710,"v":-0.9,"k":"o4","g":"-0.43"},{"t":740,"v":-1.2,"k":"o4","g":"-0.43"},{"t":770,"v":-0.4,"k":"o4","g":"-0.43"},{"t":800,"v":-1.0,"k":"o4","g":"-0.43"},{"t":830,"v":-0.6,"k":"o4","g":"-0.43"},{"t":860,"v":-1.3,"k":"o4","g":"-0.43"},{"t":890,"v":-0.8,"k":"o4","g":"-0.43"},{"t":920,"v":-1.1,"k":"o4","g":"-0.43"},{"t":950,"v":-0.5,"k":"o4","g":"-0.43"},{"t":980,"v":-1.0,"k":"o4","g":"-0.43"},{"t":1010,"v":-0.4,"k":"o4","g":"-0.43"},{"t":1040,"v":-1.5,"k":"o4","g":"-0.43"},{"t":1070,"v":-0.6,"k":"o4","g":"-0.43"},{"t":1100,"v":0.5,"k":"o4","g":"-0.43"},{"t":1130,"v":-1.5,"k":"o4","g":"-0.43"},{"t":1160,"v":5.0,"k":"o4","g":"-0.43"},{"t":1190,"v":-3.5,"k":"o4","g":"-0.43"},{"t":1220,"v":-8.0,"k":"o4","g":"-0.43"},
{"t":50,"v":-1.9,"k":"o5","g":"-0.43"},{"t":80,"v":-2.2,"k":"o5","g":"-0.43"},{"t":110,"v":-1.8,"k":"o5","g":"-0.43"},{"t":140,"v":-2.0,"k":"o5","g":"-0.43"},{"t":170,"v":-1.7,"k":"o5","g":"-0.43"},{"t":200,"v":-1.9,"k":"o5","g":"-0.43"},{"t":230,"v":-2.1,"k":"o5","g":"-0.43"},{"t":260,"v":-1.8,"k":"o5","g":"-0.43"},{"t":290,"v":-2.0,"k":"o5","g":"-0.43"},{"t":320,"v":-1.7,"k":"o5","g":"-0.43"},{"t":350,"v":-1.9,"k":"o5","g":"-0.43"},{"t":380,"v":-1.5,"k":"o5","g":"-0.43"},{"t":410,"v":-2.0,"k":"o5","g":"-0.43"},{"t":440,"v":-1.4,"k":"o5","g":"-0.43"},{"t":470,"v":-1.8,"k":"o5","g":"-0.43"},{"t":500,"v":-1.2,"k":"o5","g":"-0.43"},{"t":530,"v":-1.6,"k":"o5","g":"-0.43"},{"t":560,"v":-0.8,"k":"o5","g":"-0.43"},{"t":590,"v":-1.2,"k":"o5","g":"-0.43"},{"t":620,"v":-0.4,"k":"o5","g":"-0.43"},{"t":650,"v":0.2,"k":"o5","g":"-0.43"},{"t":680,"v":-0.5,"k":"o5","g":"-0.43"},{"t":710,"v":-1.8,"k":"o5","g":"-0.43"},{"t":740,"v":-2.6,"k":"o5","g":"-0.43"},{"t":770,"v":-2.2,"k":"o5","g":"-0.43"},{"t":800,"v":-1.5,"k":"o5","g":"-0.43"},{"t":830,"v":-1.9,"k":"o5","g":"-0.43"},{"t":860,"v":-1.2,"k":"o5","g":"-0.43"},{"t":890,"v":-1.6,"k":"o5","g":"-0.43"},{"t":920,"v":-2.1,"k":"o5","g":"-0.43"},{"t":950,"v":-1.5,"k":"o5","g":"-0.43"},{"t":980,"v":-1.9,"k":"o5","g":"-0.43"},{"t":1010,"v":-1.0,"k":"o5","g":"-0.43"},{"t":1040,"v":-1.6,"k":"o5","g":"-0.43"},{"t":1070,"v":-0.8,"k":"o5","g":"-0.43"},{"t":1100,"v":0.8,"k":"o5","g":"-0.43"},{"t":1130,"v":-1.0,"k":"o5","g":"-0.43"},{"t":1160,"v":-2.0,"k":"o5","g":"-0.43"},{"t":1190,"v":-4.5,"k":"o5","g":"-0.43"},{"t":1220,"v":-9.6,"k":"o5","g":"-0.43"},
{"t":50,"v":-3.1,"k":"o6","g":"-0.43"},{"t":80,"v":-3.3,"k":"o6","g":"-0.43"},{"t":110,"v":-3.6,"k":"o6","g":"-0.43"},{"t":140,"v":-2.6,"k":"o6","g":"-0.43"},{"t":170,"v":-2.5,"k":"o6","g":"-0.43"},{"t":200,"v":-2.7,"k":"o6","g":"-0.43"},{"t":230,"v":-2.6,"k":"o6","g":"-0.43"},{"t":260,"v":-2.7,"k":"o6","g":"-0.43"},{"t":290,"v":-2.0,"k":"o6","g":"-0.43"},{"t":320,"v":-2.6,"k":"o6","g":"-0.43"},{"t":350,"v":-2.5,"k":"o6","g":"-0.43"},{"t":380,"v":-2.4,"k":"o6","g":"-0.43"},{"t":410,"v":-2.2,"k":"o6","g":"-0.43"},{"t":440,"v":-1.5,"k":"o6","g":"-0.43"},{"t":470,"v":-1.2,"k":"o6","g":"-0.43"},{"t":500,"v":-1.8,"k":"o6","g":"-0.43"},{"t":530,"v":-0.9,"k":"o6","g":"-0.43"},{"t":560,"v":-1.4,"k":"o6","g":"-0.43"},{"t":590,"v":-0.6,"k":"o6","g":"-0.43"},{"t":620,"v":0.3,"k":"o6","g":"-0.43"},{"t":650,"v":-0.4,"k":"o6","g":"-0.43"},{"t":680,"v":-1.5,"k":"o6","g":"-0.43"},{"t":710,"v":-1.2,"k":"o6","g":"-0.43"},{"t":740,"v":-2.2,"k":"o6","g":"-0.43"},{"t":770,"v":-3.5,"k":"o6","g":"-0.43"},{"t":800,"v":-1.0,"k":"o6","g":"-0.43"},{"t":830,"v":-1.5,"k":"o6","g":"-0.43"},{"t":860,"v":-2.5,"k":"o6","g":"-0.43"},{"t":890,"v":-1.8,"k":"o6","g":"-0.43"},{"t":920,"v":-2.6,"k":"o6","g":"-0.43"},{"t":950,"v":-1.4,"k":"o6","g":"-0.43"},{"t":980,"v":-2.0,"k":"o6","g":"-0.43"},{"t":1010,"v":-1.0,"k":"o6","g":"-0.43"},{"t":1040,"v":-1.8,"k":"o6","g":"-0.43"},{"t":1070,"v":-0.6,"k":"o6","g":"-0.43"},{"t":1100,"v":1.2,"k":"o6","g":"-0.43"},{"t":1130,"v":-0.5,"k":"o6","g":"-0.43"},{"t":1160,"v":1.5,"k":"o6","g":"-0.43"},{"t":1190,"v":-3.0,"k":"o6","g":"-0.43"},{"t":1220,"v":-5.0,"k":"o6","g":"-0.43"}
]
},
"vconcat":[
{
"width":946,"height":202,
"resolve":{"axis":{"x":"independent","y":"independent"}},
"layer":[
{"data":{"values":[{}]},"mark":{"type":"rule","strokeDash":[6,5],"color":"#555","strokeWidth":1.2},"encoding":{"y":{"datum":0,"axis":null}}},
{"data":{"name":"ecrh"},"mark":{"type":"line","strokeWidth":1.6,"clip":true},
"encoding":{
"x":{"field":"t","type":"quantitative","scale":{"domain":[-50,1535],"nice":false,"zero":false},"axis":{"orient":"bottom","values":[0,50,100,150,200,250,300,350,400,450,500,550,600,650,700,750,800,850,900,950,1000,1050,1100,1150,1200,1250,1300,1350,1400,1450,1500],"tickSize":{"condition":{"test":"datum.value % 500 === 0","value":-14},"value":-8},"labels":false,"title":null}},
"y":{"field":"v","type":"quantitative","scale":{"domain":[-0.15,2.68],"nice":false,"zero":false},"axis":{"orient":"left","values":[0,0.3333,0.6667,1,1.3333,1.6667,2,2.3333],"tickSize":{"condition":{"test":"abs(datum.value-round(datum.value))<0.001","value":-14},"value":-8},"labelExpr":"abs(datum.value-round(datum.value))<0.001 ? toString(round(datum.value)) : ''","labelFont":"Open Sans","labelFontWeight":"bold","labelFontSize":30,"labelPadding":27,"labelOverlap":false,"labelFlush":false,"title":"ECRH power","titleFont":"Open Sans","titleFontWeight":"bold","titleFontSize":30,"titleX":-114,"titleY":210,"titleAlign":"left","titleBaseline":"alphabetic","titleAngle":270}},
"color":{"datum":"ECRH (total)","scale":{"domain":["ECRH (total)"],"range":["#1a1a1a"]},"legend":{"orient":"none","legendX":742,"legendY":38,"title":null,"symbolType":"M-6,0H6","symbolSize":100,"symbolStrokeWidth":3,"labelFont":"Liberation Sans","labelFontWeight":"bold","labelFontSize":21,"labelOffset":29,"labelColor":"#111"}}
}},
{"data":{"name":"ecrh"},"mark":{"type":"line","opacity":0},"encoding":{"x":{"field":"t","type":"quantitative","axis":{"orient":"top","values":[0,50,100,150,200,250,300,350,400,450,500,550,600,650,700,750,800,850,900,950,1000,1050,1100,1150,1200,1250,1300,1350,1400,1450,1500],"tickSize":{"condition":{"test":"datum.value % 500 === 0","value":-14},"value":-8},"labels":false,"title":null}},"y":{"field":"v","type":"quantitative","axis":{"orient":"right","values":[0,0.3333,0.6667,1,1.3333,1.6667,2,2.3333],"tickSize":{"condition":{"test":"abs(datum.value-round(datum.value))<0.001","value":-14},"value":-8},"labels":false,"title":null}}}},
{"data":{"name":"ecrh"},"mark":{"type":"line","opacity":0},"encoding":{"x":{"field":"t","type":"quantitative","axis":null},"y":{"field":"v","type":"quantitative","axis":{"orient":"left","ticks":false,"labels":false,"title":"[MW]","titleFont":"Open Sans","titleFontWeight":"normal","titleFontSize":30,"titleX":-71,"titleY":210,"titleAlign":"left","titleBaseline":"alphabetic","titleAngle":270}}}}
]
},
{
"width":946,"height":197,
"resolve":{"axis":{"x":"independent","y":"independent"}},
"layer":[
{"data":{"values":[{}]},"mark":{"type":"rule","strokeDash":[6,5],"color":"#555","strokeWidth":1.2},"encoding":{"y":{"datum":0,"axis":null}}},
{"data":{"name":"te"},"mark":{"type":"line","strokeWidth":4.2,"clip":true},
"encoding":{
"x":{"field":"t","type":"quantitative","scale":{"domain":[-50,1535],"nice":false,"zero":false},"axis":{"orient":"bottom","values":[0,50,100,150,200,250,300,350,400,450,500,550,600,650,700,750,800,850,900,950,1000,1050,1100,1150,1200,1250,1300,1350,1400,1450,1500],"tickSize":{"condition":{"test":"datum.value % 500 === 0","value":-14},"value":-8},"labels":false,"title":null}},
"y":{"field":"v","type":"quantitative","scale":{"domain":[-0.4,10.6],"nice":false,"zero":false},"axis":{"orient":"left","values":[0,2.5,5,7.5,10],"tickSize":{"condition":{"test":"datum.value % 5 === 0","value":-14},"value":-8},"labelExpr":"datum.value % 5 === 0 ? toString(datum.value) : ''","labelFont":"Open Sans","labelFontWeight":"bold","labelFontSize":30,"labelPadding":27,"labelOverlap":false,"labelFlush":false,"title":"Ti , Te","titleFont":"Open Sans","titleFontWeight":"bold","titleFontSize":30,"titleX":-114,"titleY":203,"titleAlign":"left","titleBaseline":"alphabetic","titleAngle":270}},
"color":{"datum":"Tₑ₀ (ECE)","scale":{"domain":["Tₑ₀ (ECE)","Tᵢ₀ (XICS)"],"range":["#1c74c1","#c1262c"]},"legend":{"orient":"none","legendX":745,"legendY":41,"title":null,"symbolType":"M-6,0H6","symbolSize":100,"symbolStrokeWidth":4,"labelFont":"Liberation Sans","labelFontWeight":"bold","labelFontSize":21,"labelOffset":22,"rowPadding":7,"labelColor":"#111"}}
}},
{"data":{"name":"ti"},"mark":{"type":"line","strokeWidth":2.6,"clip":true},"encoding":{"x":{"field":"t","type":"quantitative","axis":null},"y":{"field":"v","type":"quantitative","axis":null},"color":{"datum":"Tᵢ₀ (XICS)"}}},
{"data":{"name":"te"},"mark":{"type":"line","opacity":0},"encoding":{"x":{"field":"t","type":"quantitative","axis":{"orient":"top","values":[0,50,100,150,200,250,300,350,400,450,500,550,600,650,700,750,800,850,900,950,1000,1050,1100,1150,1200,1250,1300,1350,1400,1450,1500],"tickSize":{"condition":{"test":"datum.value % 500 === 0","value":-14},"value":-8},"labels":false,"title":null}},"y":{"field":"v","type":"quantitative","axis":{"orient":"right","values":[0,2.5,5,7.5,10],"tickSize":{"condition":{"test":"datum.value % 5 === 0","value":-14},"value":-8},"labels":false,"title":null}}}},
{"data":{"name":"te"},"mark":{"type":"line","opacity":0},"encoding":{"x":{"field":"t","type":"quantitative","axis":null},"y":{"field":"v","type":"quantitative","axis":{"orient":"left","ticks":false,"labels":false,"title":"[keV]","titleFont":"Open Sans","titleFontWeight":"normal","titleFontSize":30,"titleX":-71,"titleY":203,"titleAlign":"left","titleBaseline":"alphabetic","titleAngle":270}}}}
]
},
{
"width":946,"height":197,
"resolve":{"axis":{"x":"independent","y":"independent"}},
"layer":[
{"data":{"values":[{}]},"mark":{"type":"rule","strokeDash":[6,5],"color":"#555","strokeWidth":1.2},"encoding":{"y":{"datum":0,"axis":null}}},
{"data":{"name":"ne"},"mark":{"type":"line","strokeWidth":1.6,"clip":true},
"encoding":{
"x":{"field":"t","type":"quantitative","scale":{"domain":[-50,1535],"nice":false,"zero":false},"axis":{"orient":"bottom","values":[0,50,100,150,200,250,300,350,400,450,500,550,600,650,700,750,800,850,900,950,1000,1050,1100,1150,1200,1250,1300,1350,1400,1450,1500],"tickSize":{"condition":{"test":"datum.value % 500 === 0","value":-14},"value":-8},"labels":false,"title":null}},
"y":{"field":"v","type":"quantitative","scale":{"domain":[-0.02,0.425],"nice":false,"zero":false},"axis":{"orient":"left","values":[0,0.1,0.2,0.3,0.4],"tickSize":{"condition":{"test":"round(datum.value*10) % 2 === 0","value":-14},"value":-8},"labelExpr":"round(datum.value*10) % 2 === 0 ? toString(round(datum.value*10)/10) : ''","labelFont":"Open Sans","labelFontWeight":"bold","labelFontSize":30,"labelPadding":27,"labelOverlap":false,"labelFlush":false,"title":"ne","titleFont":"Open Sans","titleFontWeight":"bold","titleFontSize":30,"titleX":-114,"titleY":194,"titleAlign":"left","titleBaseline":"alphabetic","titleAngle":270}},
"color":{"datum":"density","scale":{"domain":["density"],"range":["#1a1a1a"]},"legend":{"orient":"none","legendX":634,"legendY":41,"title":null,"symbolType":"M-8.8,0H8.8","symbolSize":100,"symbolStrokeWidth":3,"labelFont":"Liberation Sans","labelFontWeight":"bold","labelFontSize":21,"labelOffset":43,"labelLimit":400,"labelColor":"#111","labelExpr":"['Line integrated density','(interferometer)']"}}
}},
{"data":{"name":"ne"},"mark":{"type":"line","opacity":0},"encoding":{"x":{"field":"t","type":"quantitative","axis":{"orient":"top","values":[0,50,100,150,200,250,300,350,400,450,500,550,600,650,700,750,800,850,900,950,1000,1050,1100,1150,1200,1250,1300,1350,1400,1450,1500],"tickSize":{"condition":{"test":"datum.value % 500 === 0","value":-14},"value":-8},"labels":false,"title":null}},"y":{"field":"v","type":"quantitative","axis":{"orient":"right","values":[0,0.1,0.2,0.3,0.4],"tickSize":{"condition":{"test":"round(datum.value*10) % 2 === 0","value":-14},"value":-8},"labels":false,"title":null}}}},
{"data":{"name":"ne"},"mark":{"type":"line","opacity":0},"encoding":{"x":{"field":"t","type":"quantitative","axis":null},"y":{"field":"v","type":"quantitative","axis":{"orient":"left","ticks":false,"labels":false,"title":"[10²⁰m⁻²]","titleFont":"Open Sans","titleFontWeight":"normal","titleFontSize":30,"titleX":-71,"titleY":194,"titleAlign":"left","titleBaseline":"alphabetic","titleAngle":270}}}}
]
},
{
"width":946,"height":288,
"resolve":{"axis":{"x":"independent","y":"independent"}},
"layer":[
{"data":{"values":[{}]},"mark":{"type":"rect","color":"#f8c2c2"},"encoding":{"x":{"datum":600,"axis":null},"x2":{"datum":700},"y":{"datum":10,"axis":null},"y2":{"datum":-10.3}}},
{"data":{"values":[{}]},"mark":{"type":"rule","strokeDash":[6,5],"color":"#444","strokeWidth":1.2},"encoding":{"y":{"datum":0,"axis":null}}},
{"data":{"name":"vel"},"mark":{"type":"line","strokeWidth":1.3,"clip":true},
"encoding":{
"x":{"field":"t","type":"quantitative","scale":{"domain":[-50,1535],"nice":false,"zero":false},"axis":{"orient":"bottom","values":[0,100,200,300,400,500,600,700,800,900,1000,1100,1200,1300,1400,1500],"tickSize":{"condition":{"test":"datum.value % 500 === 0","value":-15},"value":-9},"labelExpr":"datum.value % 500 === 0 ? toString(datum.value) : ''","labelFont":"Open Sans","labelFontWeight":"bold","labelFontSize":30,"labelPadding":21,"labelOverlap":false,"labelFlush":false,"title":"Time","titleFont":"Open Sans","titleFontWeight":"bold","titleFontSize":30,"titleX":433,"titleY":65,"titleAlign":"left","titleBaseline":"alphabetic"}},
"y":{"field":"v","type":"quantitative","scale":{"domain":[-10.3,10],"nice":false,"zero":false},"axis":{"orient":"left","values":[-10,-9,-8,-7,-6,-5,-4,-3,-2,-1,0,1,2,3,4,5,6,7,8,9],"tickSize":{"condition":{"test":"datum.value % 5 === 0","value":-15},"value":-8},"labelExpr":"datum.value % 5 === 0 ? toString(datum.value) : ''","labelFont":"Open Sans","labelFontWeight":"bold","labelFontSize":30,"labelPadding":27,"labelOverlap":false,"labelFlush":false,"title":"Δ Velocity","titleFont":"Open Sans","titleFontWeight":"bold","titleFontSize":30,"titleX":-114,"titleY":289,"titleAlign":"left","titleBaseline":"alphabetic","titleAngle":270}},
"color":{"field":"g","type":"nominal","scale":{"domain":["0.84","0","-0.43"],"range":["#8e3f92","#8c8c8c","#f4a54c"]},"legend":{"orient":"none","legendX":801,"legendY":26,"title":null,"symbolType":"M-5.5,0H5.5","symbolSize":100,"symbolStrokeWidth":3.5,"labelFont":"Open Sans","labelFontWeight":"bold","labelFontSize":19,"labelOffset":25,"rowPadding":5,"labelColor":"#111","labelExpr":"datum.label == '0.84' ? 'ρ =\u00a0 0.84' : 'ρ = ' + datum.label"}},
"detail":{"field":"k"}
}},
{"data":{"name":"vel"},"mark":{"type":"point","shape":"M-1,0H1M0,-1V1","filled":false,"size":90,"strokeWidth":1.2,"clip":true,"opacity":1},"encoding":{"x":{"field":"t","type":"quantitative","axis":null},"y":{"field":"v","type":"quantitative","axis":null},"color":{"field":"g","type":"nominal","legend":null}}},
{"data":{"values":[{}]},"mark":{"type":"text","align":"left","baseline":"middle","font":"Open Sans","fontWeight":"bold","fontSize":16.5,"color":"#111","text":"Velocity change relative to average value between 600-700 ms"},"encoding":{"x":{"datum":2,"axis":null},"y":{"datum":-7.75,"axis":null}}},
{"data":{"name":"vel"},"mark":{"type":"line","opacity":0},"encoding":{"x":{"field":"t","type":"quantitative","axis":{"orient":"top","values":[0,100,200,300,400,500,600,700,800,900,1000,1100,1200,1300,1400,1500],"tickSize":{"condition":{"test":"datum.value % 500 === 0","value":-15},"value":-9},"labels":false,"title":null}},"y":{"field":"v","type":"quantitative","axis":{"orient":"right","values":[-10,-9,-8,-7,-6,-5,-4,-3,-2,-1,0,1,2,3,4,5,6,7,8,9],"tickSize":{"condition":{"test":"datum.value % 5 === 0","value":-15},"value":-8},"labels":false,"title":null}},"detail":{"field":"k"}}},
{"data":{"name":"vel"},"mark":{"type":"line","opacity":0},"encoding":{"x":{"field":"t","type":"quantitative","axis":{"orient":"bottom","ticks":false,"labels":false,"title":"[ms]","titleFont":"Open Sans","titleFontWeight":"normal","titleFontSize":22,"titleX":511,"titleY":65,"titleAlign":"left","titleBaseline":"alphabetic"}},"y":{"field":"v","type":"quantitative","axis":{"orient":"left","ticks":false,"labels":false,"title":"[km/s]","titleFont":"Open Sans","titleFontWeight":"normal","titleFontSize":30,"titleX":-71,"titleY":289,"titleAlign":"left","titleBaseline":"alphabetic","titleAngle":270}},"detail":{"field":"k"}}}
]
}
]
}
